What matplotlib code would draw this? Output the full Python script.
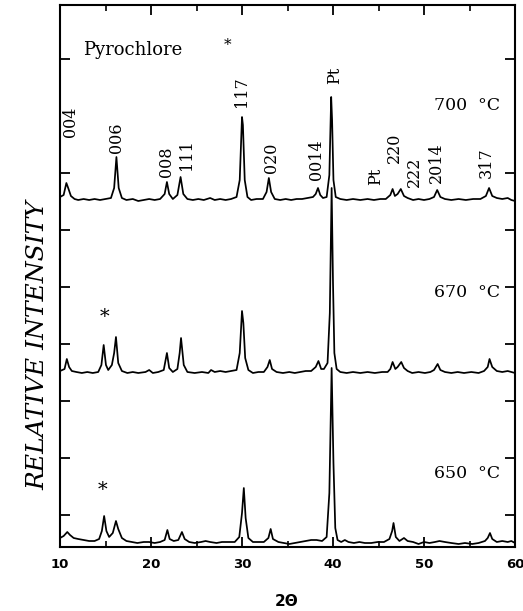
import matplotlib
matplotlib.use("Agg")
import matplotlib.pyplot as plt
from matplotlib.ticker import MultipleLocator, FixedLocator

# ---- XRD patterns (2-theta in degrees, intensity in arbitrary units) ----
two_theta_700 = [10.0, 10.4, 10.7, 10.9, 11.2, 11.6, 12.0, 12.6, 13.2, 13.8, 14.4, 15.0,
                 15.6, 15.95, 16.2, 16.45, 16.8, 17.3, 18.0, 18.6, 19.2, 19.8, 20.4, 21.0,
                 21.5, 21.75, 22.0, 22.4, 22.9, 23.25, 23.55, 24.0, 24.6, 25.2, 25.8, 26.5,
                 27.0, 27.6, 28.2, 28.8, 29.4, 29.75, 30.0, 30.1, 30.3, 30.6, 31.0, 31.6,
                 32.3, 32.7, 32.95, 33.2, 33.6, 34.2, 34.8, 35.4, 36.0, 36.6, 37.2, 37.8,
                 38.1, 38.35, 38.6, 38.9, 39.3, 39.6, 39.8, 39.9, 40.05, 40.3, 40.8, 41.5,
                 42.2, 43.0, 43.8, 44.5, 45.2, 45.8, 46.3, 46.55, 46.8, 47.1, 47.45, 47.8,
                 48.2, 48.8, 49.4, 50.0, 50.6, 51.1, 51.45, 51.8, 52.3, 53.0, 53.8, 54.6,
                 55.4, 56.2, 56.8, 57.15, 57.5, 58.0, 58.6, 59.2, 59.6, 60.0]
intensity_700 = [3, 5, 17, 12, 4, 1, 0, 1, 0, 1, 0, 1,
                 2, 12, 43, 12, 2, 0, 1, -1, 0, 1, 0, 1,
                 6, 18, 6, 1, 5, 23, 6, 1, 0, 1, 0, 2,
                 0, 1, 0, 1, 3, 20, 83, 75, 20, 3, 0, 1,
                 1, 8, 22, 8, 1, 0, 1, 0, 1, 1, 2, 3,
                 6, 12, 5, 2, 3, 25, 103, 80, 20, 3, 1, 0,
                 1, 0, 1, 0, 1, 1, 5, 11, 4, 6, 11, 4,
                 2, 0, 1, 0, 1, 3, 10, 3, 1, 0, 1, 0,
                 1, 1, 4, 12, 4, 2, 1, 2, 0, -1]

two_theta_670 = [10.0, 10.5, 10.75, 11.0, 11.3, 11.8, 12.4, 13.0, 13.6, 14.2, 14.55, 14.8,
                 15.05, 15.3, 15.7, 15.95, 16.15, 16.4, 16.8, 17.4, 18.0, 18.6, 19.4, 19.8,
                 20.2, 20.8, 21.4, 21.75, 22.0, 22.4, 22.9, 23.15, 23.3, 23.6, 24.0, 24.8,
                 25.6, 26.3, 26.6, 27.0, 27.6, 28.2, 28.8, 29.4, 29.75, 30.0, 30.15, 30.35,
                 30.7, 31.2, 31.8, 32.4, 32.8, 33.05, 33.3, 33.8, 34.5, 35.2, 35.8, 36.4,
                 37.0, 37.6, 38.1, 38.4, 38.7, 39.0, 39.4, 39.65, 39.85, 40.0, 40.15, 40.4,
                 40.8, 41.5, 42.2, 43.0, 43.8, 44.6, 45.4, 46.0, 46.3, 46.55, 46.85, 47.1,
                 47.5, 47.8, 48.2, 48.7, 49.4, 50.1, 50.7, 51.1, 51.5, 51.8, 52.3, 53.0,
                 53.7, 54.4, 55.2, 56.0, 56.6, 57.0, 57.2, 57.5, 58.0, 58.6, 59.2, 59.6, 60.0]
intensity_670 = [2, 4, 14, 6, 2, 1, 0, 1, 0, 1, 8, 28,
                 8, 3, 8, 20, 36, 10, 2, 0, 1, 0, 1, 3,
                 0, 1, 3, 20, 5, 1, 4, 20, 35, 8, 1, 0,
                 1, 0, 3, 1, 2, 1, 2, 3, 20, 62, 50, 15,
                 3, 0, 1, 1, 6, 13, 4, 1, 0, 1, 0, 1,
                 2, 2, 6, 12, 4, 4, 10, 60, 185, 90, 20, 4,
                 1, 0, 1, 0, 1, 0, 1, 1, 4, 11, 4, 6,
                 11, 5, 2, 0, 1, 0, 1, 3, 9, 3, 1, 0,
                 1, 0, 1, 0, 2, 6, 14, 6, 2, 1, 2, 1, 0]

two_theta_650 = [10.0, 10.4, 10.8, 11.1, 11.5, 12.0, 12.6, 13.2, 13.8, 14.3, 14.6, 14.85,
                 15.1, 15.4, 15.8, 16.15, 16.4, 16.8, 17.3, 17.9, 18.5, 19.2, 19.8, 20.4,
                 21.0, 21.5, 21.8, 22.05, 22.5, 23.0, 23.4, 23.7, 24.2, 24.8, 25.5, 26.0,
                 26.5, 27.2, 27.8, 28.5, 29.2, 29.7, 30.0, 30.2, 30.4, 30.7, 31.2, 31.8,
                 32.4, 32.9, 33.15, 33.4, 34.0, 34.6, 35.2, 35.8, 36.4, 37.0, 37.6, 38.2,
                 38.8, 39.3, 39.6, 39.85, 40.05, 40.25, 40.5, 40.9, 41.3, 41.7, 42.3, 42.9,
                 43.5, 44.2, 44.9, 45.6, 46.2, 46.5, 46.65, 46.9, 47.3, 47.8, 48.2, 48.8,
                 49.4, 50.0, 50.6, 51.2, 51.7, 52.3, 53.0, 53.8, 54.5, 55.3, 56.0, 56.7,
                 57.0, 57.25, 57.5, 58.0, 58.6, 59.2, 59.6, 60.0]
intensity_650 = [5, 7, 11, 8, 5, 4, 3, 2, 2, 4, 12, 27,
                 12, 6, 10, 22, 14, 5, 2, 1, 0, 1, 1, 0,
                 1, 3, 13, 4, 2, 3, 11, 4, 1, 0, 1, 2,
                 1, 0, 1, 1, 1, 6, 30, 55, 25, 5, 1, 1,
                 1, 5, 14, 4, 1, 0, -1, 0, 1, 2, 3, 3,
                 2, 6, 50, 175, 80, 15, 3, 1, 3, 1, 0, 1,
                 0, 0, 1, 1, 4, 12, 20, 6, 2, 5, 2, 1,
                 -1, 1, 0, 1, 2, 1, 0, -1, 0, -1, 0, 2,
                 5, 10, 4, 1, 2, 1, 2, 0]

temperatures = ["700", "670", "650"]

# reflections indexed on the 700 C pattern
hkl_labels = ["004", "006", "008", "111", "117", "020", "0014", "Pt",
              "Pt", "220", "222", "2014", "317"]
hkl_two_theta = [11.1, 16.2, 21.7, 23.9, 30.0, 33.2, 38.2, 40.2,
                 44.7, 46.8, 48.9, 51.4, 56.8]

# pyrochlore reflection marked with an asterisk
pyrochlore_two_theta = 14.85

# ---- layout ----
W, H = 523, 611
fig = plt.figure(figsize=(W / 100, H / 100), dpi=100)
ax = fig.add_axes([60 / W, 1 - 547 / H, 455 / W, 542 / H])
ax.set_xlim(10, 60)
ax.set_ylim(0, 542)

offsets = [347, 174, 4]
patterns = [(two_theta_700, intensity_700),
            (two_theta_670, intensity_670),
            (two_theta_650, intensity_650)]
for (tt, inten), off in zip(patterns, offsets):
    ax.plot(tt, [v + off for v in inten], color="black", lw=1.25,
            solid_joinstyle="round")

serif = "DejaVu Serif"

# temperature labels
temp_y = [437, 250, 69]
for t, y in zip(temperatures, temp_y):
    ax.text(51.1, y, t + "  \u00b0C", family=serif, fontsize=12.5,
            ha="left", va="baseline")

# Miller index labels above the 700 C peaks
label_bottom = [410, 394, 370, 377, 440, 374, 367, 463, 362, 384, 360, 364, 369]
for lab, tt, yb in zip(hkl_labels, hkl_two_theta, label_bottom):
    ax.text(tt, yb, lab, family=serif, fontsize=11.5, rotation=90,
            ha="center", va="bottom")

# note and pyrochlore markers
ax.text(12.5, 492, "Pyrochlore", family=serif, fontsize=13,
        ha="left", va="baseline")
ax.text(28.4, 502, "*", family=serif, fontsize=11, ha="center", va="center")
ax.text(pyrochlore_two_theta, 230, "*", family=serif, fontsize=14,
        ha="center", va="center")
ax.text(pyrochlore_two_theta - 0.2, 57, "*", family=serif, fontsize=14,
        ha="center", va="center")

# axes styling
for sp in ax.spines.values():
    sp.set_linewidth(1.5)
ax.xaxis.set_major_locator(MultipleLocator(10))
ax.xaxis.set_minor_locator(MultipleLocator(5))
ax.yaxis.set_major_locator(FixedLocator([32, 89, 146, 203, 260, 317, 374, 488]))
ax.tick_params(which="both", direction="in", top=True, right=True,
               left=True, bottom=True, labelleft=False)
ax.tick_params(which="major", length=7, width=1.3, pad=8)
ax.tick_params(which="minor", length=4, width=1.2)
for lbl in ax.get_xticklabels():
    lbl.set_fontweight("bold")
    lbl.set_fontsize(9.5)
    lbl.set_family("DejaVu Sans")

fig.text(287 / W, 1 - 602 / H, "2\u0398", ha="center", va="center",
         fontsize=11, fontweight="bold", family="DejaVu Sans")
fig.text(38 / W, 1 - 345 / H, "RELATIVE INTENSITY", rotation=90,
         ha="center", va="center", family=serif, style="italic", fontsize=18)

fig.savefig("out.png", dpi=100)
